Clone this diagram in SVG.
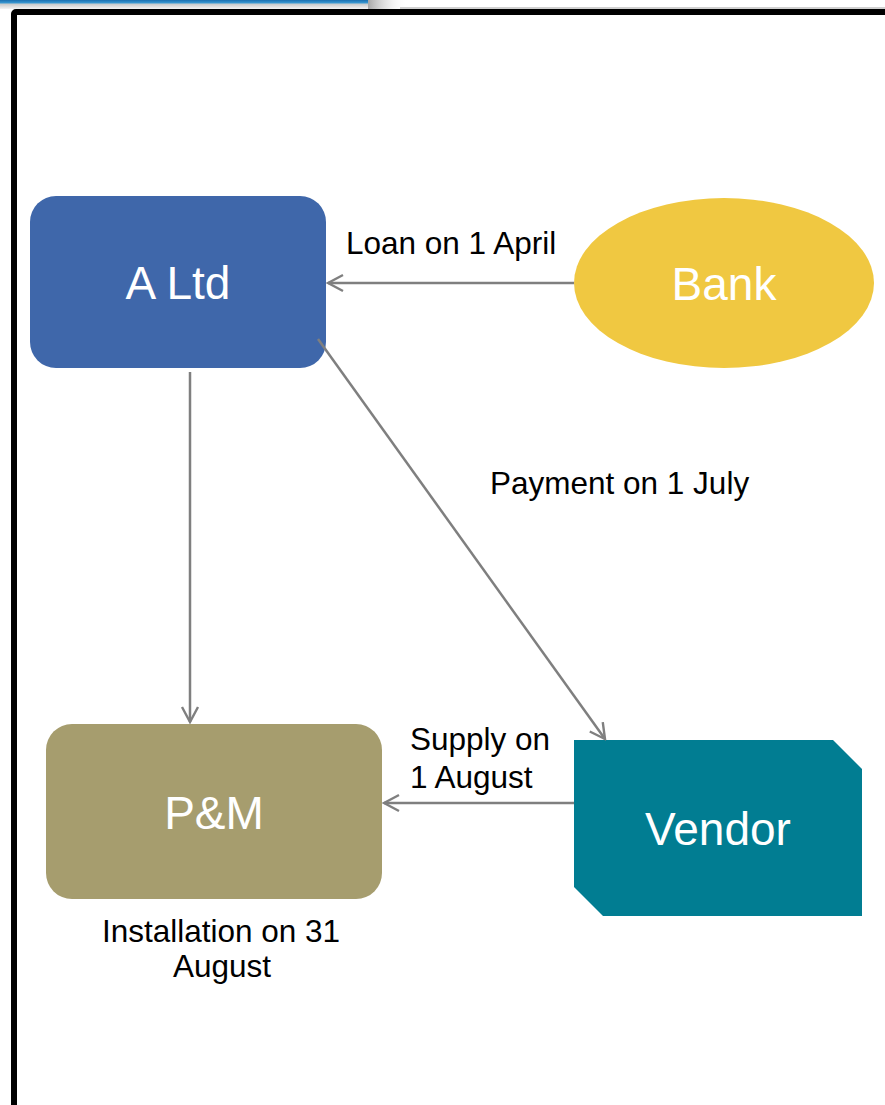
<svg xmlns="http://www.w3.org/2000/svg" width="885" height="1105" viewBox="0 0 885 1105">
  <defs>
    <linearGradient id="barBlue" x1="0" y1="0" x2="0" y2="1">
      <stop offset="0" stop-color="#1a6fb0"/>
      <stop offset="1" stop-color="#3fa0d8"/>
    </linearGradient>
    <linearGradient id="barShade" x1="0" y1="0" x2="0" y2="1">
      <stop offset="0" stop-color="#a8a8a8"/>
      <stop offset="1" stop-color="#f4f4f4"/>
    </linearGradient>
    <linearGradient id="barFade" x1="0" y1="0" x2="1" y2="0">
      <stop offset="0" stop-color="#a8a8a8"/>
      <stop offset="1" stop-color="#ffffff" stop-opacity="0"/>
    </linearGradient>
    <marker id="arrow" viewBox="0 0 20 20" refX="18" refY="10" markerWidth="20" markerHeight="20" markerUnits="userSpaceOnUse" orient="auto">
      <path d="M3,2 L18,10 L3,18" fill="none" stroke="#7f7f7f" stroke-width="2.4" stroke-linejoin="miter"/>
    </marker>
    <style>
      .edge { stroke: #7f7f7f; stroke-width: 2.5; fill: none; marker-end: url(#arrow); }
      .node-label { font-family: "Liberation Sans", Arial, sans-serif; font-size: 46px; fill: #ffffff; text-anchor: middle; }
      .edge-label { font-family: "Liberation Sans", Arial, sans-serif; font-size: 31.5px; fill: #000000; }
    </style>
  </defs>

  <rect width="885" height="1105" fill="#ffffff"/>

  <!-- title bar strip and its shadow -->
  <g id="title-strip">
    <rect x="0" y="0" width="370" height="9" fill="url(#barShade)"/>
    <rect x="368" y="0" width="40" height="9" fill="url(#barFade)"/>
    <rect x="0" y="0" width="368" height="3.5" fill="url(#barBlue)"/>
    <rect x="400" y="7" width="485" height="2" fill="#d0d0d0"/>
  </g>

  <!-- slide frame -->
  <rect id="frame" x="14" y="12" width="900" height="1200" rx="2" fill="none" stroke="#000000" stroke-width="6"/>

  <g id="node-altd">
    <rect x="30" y="196" width="296" height="172" rx="26" fill="#3f67aa"/>
    <text class="node-label" x="178" y="299">A Ltd</text>
  </g>

  <g id="node-bank">
    <ellipse cx="724" cy="283" rx="150" ry="85" fill="#f0c841"/>
    <text class="node-label" x="724" y="300">Bank</text>
  </g>

  <g id="node-pm">
    <rect x="46" y="724" width="336" height="175" rx="26" fill="#a69d6e"/>
    <text class="node-label" x="214" y="829">P&amp;M</text>
    <text class="edge-label" x="221" y="942" text-anchor="middle">Installation on 31</text>
    <text class="edge-label" x="222" y="977" text-anchor="middle">August</text>
  </g>

  <g id="node-vendor">
    <polygon points="574,740 833,740 862,769 862,916 603,916 574,887" fill="#017d92"/>
    <text class="node-label" x="718" y="845">Vendor</text>
  </g>

  <!-- connectors, drawn over the nodes -->
  <g id="connectors">
    <line class="edge" x1="574" y1="283" x2="328" y2="283"/>
    <line class="edge" x1="190" y1="372" x2="190" y2="722"/>
    <line class="edge" x1="318" y1="339" x2="605" y2="739"/>
    <line class="edge" x1="574" y1="803" x2="384" y2="803"/>
    <text class="edge-label" x="346" y="254">Loan on 1 April</text>
    <text class="edge-label" x="490" y="494">Payment on 1 July</text>
    <text class="edge-label" x="410" y="750">Supply on</text>
    <text class="edge-label" x="410" y="788">1 August</text>
  </g>
</svg>
